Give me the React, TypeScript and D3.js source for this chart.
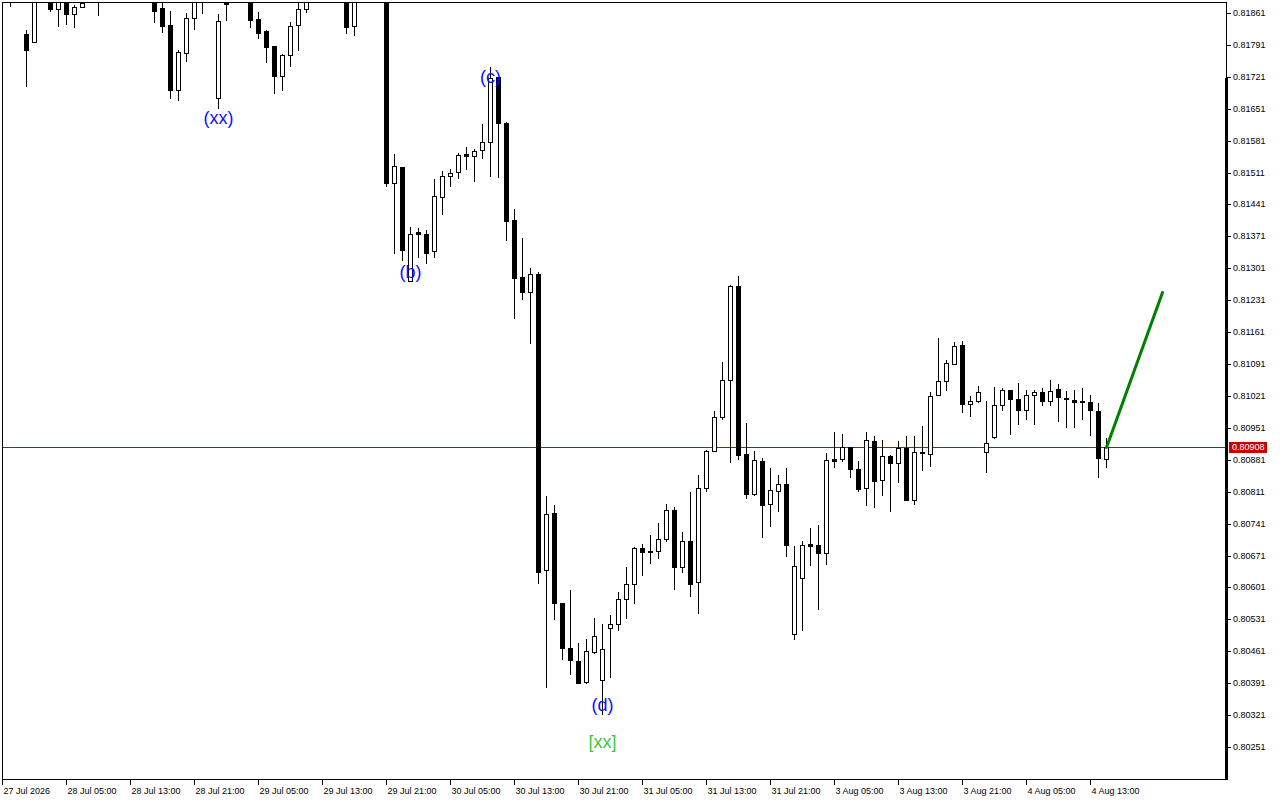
import * as d3 from "d3";

// hourly bars (bars above the top edge are clipped anyway)
const barOpen = [
  0.81940, 0.81905, 0.81920, 0.81815, 0.81797, 0.81905, 0.81895, 0.81870, 0.81900, 0.81859,
  0.81874, 0.81900, 0.81910, 0.81905, 0.81925, 0.81950, 0.81940, 0.81925, 0.81930, 0.81910,
  0.81872, 0.81835, 0.81692, 0.81773, 0.81850, 0.81905, 0.81900, 0.81675, 0.81884, 0.81895,
  0.81910, 0.81905, 0.81848, 0.81822, 0.81789, 0.81723, 0.81769, 0.81835, 0.81870, 0.81890,
  0.81905, 0.81925, 0.81915, 0.81905, 0.81832, 0.81900, 0.81915, 0.81930, 0.81910, 0.81488,
  0.81523, 0.81273, 0.81381, 0.81376, 0.81339, 0.81457, 0.81504, 0.81512, 0.81552, 0.81547,
  0.81561, 0.81578, 0.81721, 0.81620, 0.81407, 0.81282, 0.81249, 0.81289, 0.80640, 0.80764,
  0.80567, 0.80468, 0.80440, 0.80394, 0.80460, 0.80398, 0.80512, 0.80521, 0.80576, 0.80609,
  0.80688, 0.80681, 0.80681, 0.80708, 0.80771, 0.80646, 0.80703, 0.80613, 0.80819, 0.80901,
  0.80975, 0.81056, 0.81262, 0.80894, 0.80806, 0.80879, 0.80784, 0.80813, 0.80828, 0.80499,
  0.80622, 0.80697, 0.80694, 0.80677, 0.80883, 0.80883, 0.80909, 0.80861, 0.80819, 0.80922,
  0.80837, 0.80889, 0.80874, 0.80907, 0.80793, 0.80898, 0.80894, 0.81023, 0.81054, 0.81091,
  0.81133, 0.81003, 0.81010, 0.80898, 0.80931, 0.81001, 0.81034, 0.81014, 0.80990, 0.81023,
  0.81030, 0.81010, 0.81036, 0.81017, 0.81012, 0.81010, 0.81008, 0.80988, 0.80883,
];
const barHigh = [
  0.81960, 0.81935, 0.81945, 0.81824, 0.81911, 0.81930, 0.81905, 0.81910, 0.81910, 0.81879,
  0.81895, 0.81925, 0.81925, 0.81935, 0.81960, 0.81975, 0.81955, 0.81945, 0.81940, 0.81920,
  0.81883, 0.81865, 0.81780, 0.81861, 0.81915, 0.81920, 0.81915, 0.81859, 0.81900, 0.81920,
  0.81930, 0.81915, 0.81863, 0.81824, 0.81789, 0.81771, 0.81841, 0.81890, 0.81900, 0.81915,
  0.81935, 0.81945, 0.81930, 0.81915, 0.81910, 0.81925, 0.81940, 0.81945, 0.81920, 0.81552,
  0.81523, 0.81392, 0.81389, 0.81385, 0.81497, 0.81515, 0.81519, 0.81554, 0.81567, 0.81563,
  0.81618, 0.81743, 0.81721, 0.81622, 0.81431, 0.81368, 0.81302, 0.81293, 0.80802, 0.80782,
  0.80567, 0.80596, 0.80479, 0.80488, 0.80534, 0.80521, 0.80541, 0.80591, 0.80646, 0.80690,
  0.80697, 0.80716, 0.80743, 0.80784, 0.80778, 0.80723, 0.80810, 0.80848, 0.80903, 0.80988,
  0.81096, 0.81264, 0.81284, 0.80962, 0.80901, 0.80885, 0.80863, 0.80848, 0.80863, 0.80692,
  0.80703, 0.80732, 0.80738, 0.80896, 0.80942, 0.80938, 0.80909, 0.80879, 0.80942, 0.80933,
  0.80925, 0.80892, 0.80922, 0.80933, 0.80933, 0.80955, 0.81030, 0.81148, 0.81100, 0.81139,
  0.81142, 0.81021, 0.81043, 0.81010, 0.81041, 0.81039, 0.81034, 0.81050, 0.81034, 0.81034,
  0.81039, 0.81056, 0.81047, 0.81032, 0.81034, 0.81039, 0.81023, 0.81006, 0.80929,
];
const barLow = [
  0.81915, 0.81876, 0.81900, 0.81701, 0.81797, 0.81895, 0.81865, 0.81832, 0.81837, 0.81830,
  0.81874, 0.81895, 0.81857, 0.81895, 0.81915, 0.81930, 0.81915, 0.81905, 0.81900, 0.81841,
  0.81819, 0.81675, 0.81670, 0.81756, 0.81826, 0.81861, 0.81892, 0.81653, 0.81846, 0.81890,
  0.81895, 0.81830, 0.81806, 0.81754, 0.81686, 0.81692, 0.81745, 0.81780, 0.81863, 0.81888,
  0.81895, 0.81905, 0.81895, 0.81817, 0.81813, 0.81890, 0.81900, 0.81905, 0.81482, 0.81335,
  0.81319, 0.81273, 0.81326, 0.81313, 0.81326, 0.81420, 0.81482, 0.81499, 0.81519, 0.81493,
  0.81543, 0.81504, 0.81501, 0.81363, 0.81192, 0.81234, 0.81137, 0.80611, 0.80383, 0.80532,
  0.80444, 0.80411, 0.80392, 0.80392, 0.80457, 0.80324, 0.80405, 0.80508, 0.80534, 0.80567,
  0.80629, 0.80655, 0.80666, 0.80703, 0.80598, 0.80635, 0.80582, 0.80545, 0.80813, 0.80901,
  0.80971, 0.80876, 0.80883, 0.80797, 0.80804, 0.80712, 0.80736, 0.80769, 0.80670, 0.80488,
  0.80508, 0.80650, 0.80554, 0.80653, 0.80865, 0.80879, 0.80843, 0.80813, 0.80782, 0.80778,
  0.80804, 0.80769, 0.80832, 0.80793, 0.80784, 0.80859, 0.80868, 0.81023, 0.81034, 0.81091,
  0.80986, 0.80977, 0.81008, 0.80854, 0.80929, 0.80990, 0.80938, 0.80960, 0.80971, 0.80960,
  0.81001, 0.81001, 0.80966, 0.80953, 0.80953, 0.80971, 0.80936, 0.80843, 0.80865,
];
const barClose = [
  0.81950, 0.81925, 0.81930, 0.81780, 0.81901, 0.81915, 0.81870, 0.81900, 0.81859, 0.81874,
  0.81883, 0.81915, 0.81900, 0.81925, 0.81950, 0.81940, 0.81925, 0.81930, 0.81910, 0.81865,
  0.81832, 0.81692, 0.81775, 0.81850, 0.81900, 0.81895, 0.81895, 0.81844, 0.81882, 0.81910,
  0.81905, 0.81846, 0.81817, 0.81786, 0.81723, 0.81769, 0.81832, 0.81870, 0.81888, 0.81905,
  0.81925, 0.81915, 0.81905, 0.81830, 0.81900, 0.81915, 0.81930, 0.81910, 0.81488, 0.81525,
  0.81341, 0.81376, 0.81376, 0.81335, 0.81460, 0.81504, 0.81510, 0.81550, 0.81547, 0.81558,
  0.81578, 0.81718, 0.81620, 0.81405, 0.81280, 0.81249, 0.81289, 0.80635, 0.80762, 0.80567,
  0.80468, 0.80442, 0.80392, 0.80462, 0.80495, 0.80466, 0.80521, 0.80576, 0.80609, 0.80688,
  0.80679, 0.80681, 0.80708, 0.80771, 0.80646, 0.80703, 0.80609, 0.80819, 0.80901, 0.80975,
  0.81056, 0.81262, 0.80892, 0.80806, 0.80881, 0.80782, 0.80815, 0.80828, 0.80694, 0.80648,
  0.80694, 0.80692, 0.80677, 0.80881, 0.80879, 0.80909, 0.80861, 0.80817, 0.80925, 0.80835,
  0.80889, 0.80874, 0.80907, 0.80793, 0.80898, 0.80898, 0.81021, 0.81054, 0.81093, 0.81131,
  0.81003, 0.81010, 0.81030, 0.80918, 0.81001, 0.81034, 0.81014, 0.80990, 0.81023, 0.81030,
  0.81010, 0.81032, 0.81019, 0.81016, 0.81008, 0.81010, 0.80990, 0.80885, 0.80908,
];

const timeTickBars = [0, 8, 16, 24, 32, 40, 48, 56, 64, 72, 80, 88, 96, 104, 112, 120, 128, 136];
const timeTickLabels = [
  "27 Jul 2026", "28 Jul 05:00", "28 Jul 13:00", "28 Jul 21:00", "29 Jul 05:00", "29 Jul 13:00",
  "29 Jul 21:00", "30 Jul 05:00", "30 Jul 13:00", "30 Jul 21:00", "31 Jul 05:00", "31 Jul 13:00",
  "31 Jul 21:00", "3 Aug 05:00", "3 Aug 13:00", "3 Aug 21:00", "4 Aug 05:00", "4 Aug 13:00",
];
const priceTicks = [
  0.81861, 0.81791, 0.81721, 0.81651, 0.81581, 0.81511, 0.81441, 0.81371, 0.81301, 0.81231,
  0.81161, 0.81091, 0.81021, 0.80951, 0.80881, 0.80811, 0.80741, 0.80671, 0.80601, 0.80531,
  0.80461, 0.80391, 0.80321, 0.80251,
];
const lastPrice = 0.80908;

const waveTexts = ["(xx)", "(b)", "(c)", "(d)", "[xx]"];
const waveBars = [27, 51, 61, 75, 75];
const wavePrices = [0.81631, 0.81293, 0.81721, 0.80343, 0.80262];
const waveColors = ["#1010ff", "#1010ff", "#1010ff", "#1010ff", "#3cc83c"];

const projBars = [138, 145];
const projPrices = [0.80908, 0.81248];

export default function App() {
  const width = 1280;
  const height = 800;
  const plot = { left: 2, top: 2, right: 1226, bottom: 779 };
  const font = "'Liberation Sans', Arial, sans-serif";
  const red = "#c80000";

  const x = d3.scaleLinear().domain([0, 1]).range([2.5, 10.5]);
  const y = d3.scaleLinear().domain([0.80251, 0.81861]).range([747, 13]);
  const py = (v: number) => Math.round(y(v));

  const proj = d3
    .line<number>()
    .x((_, i) => x(projBars[i]))
    .y((d) => y(d));

  const lastY = py(lastPrice) + 0.5;

  return (
    <svg
      width={width}
      height={height}
      style={{ position: "absolute", left: 0, top: 0, background: "#fff" }}
      shapeRendering="crispEdges"
    >
      <defs>
        <clipPath id="plot">
          <rect x={plot.left} y={plot.top} width={plot.right - plot.left} height={plot.bottom - plot.top} />
        </clipPath>
      </defs>
      <rect width={width} height={height} fill="#fff" />

      <g clipPath="url(#plot)">
        <line x1={plot.left} x2={plot.right} y1={lastY} y2={lastY} stroke={red} strokeWidth={1} />

        {barOpen.map((o, i) => {
          const c = barClose[i];
          const cx = x(i);
          const yO = py(o);
          const yC = py(c);
          const top = Math.min(yO, yC);
          const bot = Math.max(yO, yC);
          const up = c > o;
          return (
            <g key={i}>
              <line x1={cx} x2={cx} y1={py(barHigh[i])} y2={py(barLow[i]) + 1} stroke="#000" strokeWidth={1} />
              {bot - top < 2 ? (
                <rect x={cx - 2.5} y={top} width={5} height={2} fill="#000" />
              ) : up ? (
                <rect x={cx - 2} y={top + 0.5} width={4} height={bot - top} fill="#fff" stroke="#000" strokeWidth={1} />
              ) : (
                <rect x={cx - 2.5} y={top} width={5} height={bot - top + 1} fill="#000" />
              )}
            </g>
          );
        })}

        <path d={proj(projPrices) || ""} fill="none" stroke="#008000" strokeWidth={3} shapeRendering="auto" strokeLinecap="round" />

        {waveTexts.map((t, i) => (
          <text
            key={t + i}
            x={x(waveBars[i])}
            y={y(wavePrices[i])}
            textAnchor="middle"
            dominantBaseline="central"
            fontFamily={font}
            fontSize={18}
            fill={waveColors[i]}
          >
            {t}
          </text>
        ))}
      </g>

      {/* frame */}
      <rect
        x={plot.left + 0.5}
        y={plot.top + 0.5}
        width={plot.right - plot.left}
        height={plot.bottom - plot.top}
        fill="none"
        stroke="#000"
        strokeWidth={1}
      />
      <rect x={plot.right - 1} y={78} width={3} height={plot.bottom - 78 + 1} fill="#000" />

      {/* price axis */}
      {priceTicks.map((p) => (
        <g key={p} transform={`translate(0,${py(p) + 0.5})`}>
          <line x1={plot.right + 1} x2={plot.right + 5} stroke="#000" strokeWidth={1} />
          <text x={plot.right + 7} dy="0.33em" fontFamily={font} fontSize={9} fill="#000">
            {p.toFixed(5)}
          </text>
        </g>
      ))}
      <rect x={1229} y={lastY - 5.5} width={38} height={11} fill={red} />
      <text x={1232} y={lastY} dy="0.33em" fontFamily={font} fontSize={9} fill="#fff">
        {lastPrice.toFixed(5)}
      </text>

      {/* time axis */}
      {timeTickBars.map((b, i) => (
        <g key={b} transform={`translate(${Math.floor(x(b)) + 0.5},0)`}>
          <line y1={plot.bottom + 1} y2={plot.bottom + 6} stroke="#000" strokeWidth={1} />
          <text x={1} y={794} fontFamily={font} fontSize={9} fill="#000">
            {timeTickLabels[i]}
          </text>
        </g>
      ))}
    </svg>
  );
}
